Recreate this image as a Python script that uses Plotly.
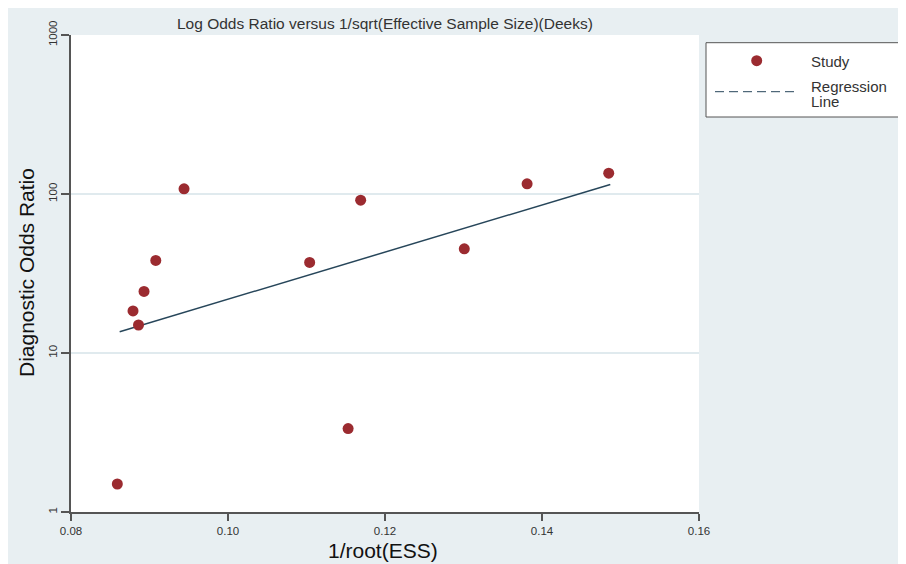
import plotly.graph_objects as go

# ---- data ----
study_x = [0.0859, 0.0879, 0.0886, 0.0893, 0.0908, 0.0944, 0.1104, 0.1153, 0.1169, 0.1301, 0.1381, 0.1485]
study_y = [1.50, 18.4, 15.0, 24.4, 38.2, 107.8, 37.1, 3.35, 91.4, 45.2, 115.9, 135.1]
reg_x = [0.0862, 0.1487]
reg_y = [13.6, 114.8]
x_ticks = [0.08, 0.10, 0.12, 0.14, 0.16]
x_tick_labels = ["0.08", "0.10", "0.12", "0.14", "0.16"]
y_ticks = [1, 10, 100, 1000]
y_tick_labels = ["1", "10", "100", "1000"]

OFF = 8                      # page body margin
W, H = 906 - OFF, 564 - OFF  # figure size
L, R, T, B = 71, 699, 35, 512  # plot area in page pixels

def fx(px):
    return (px - L) / (R - L)

def fy(py):
    return (B - py) / (B - T)

BG = "#e8eff2"
DOT = "#9b2b30"
LINE = "#27465a"
AX = "#555555"
TICKFONT = dict(family="Liberation Sans Narrow, Liberation Sans, Arial", size=11.5, color="#333333")
FONT = "Liberation Sans, Arial"

fig = go.Figure()
fig.add_trace(go.Scatter(x=reg_x, y=reg_y, mode="lines",
                         line=dict(color=LINE, width=1.5), name="Regression Line",
                         showlegend=False, hoverinfo="skip"))
fig.add_trace(go.Scatter(x=study_x, y=study_y, mode="markers",
                         marker=dict(color=DOT, size=11, line=dict(width=0)),
                         name="Study", showlegend=False))

shapes = [
    # legend box
    dict(type="rect", xref="paper", yref="paper", x0=fx(706), x1=fx(904), y0=fy(117), y1=fy(42.7),
         fillcolor="white", line=dict(color=AX, width=1), layer="above"),
    # legend dot
    dict(type="circle", xref="paper", yref="paper", xsizemode="pixel", ysizemode="pixel",
         xanchor=fx(756.7), yanchor=fy(60.7), x0=-5.5, x1=5.5, y0=-5.5, y1=5.5,
         fillcolor=DOT, line=dict(width=0), layer="above"),
    # legend dashed line
    dict(type="line", xref="paper", yref="paper", x0=fx(715), x1=fx(797), y0=fy(91.7), y1=fy(91.7),
         line=dict(color=LINE, width=1, dash="9px,5px"), layer="above"),
]

annotations = [
    dict(text="Log Odds Ratio versus 1/sqrt(Effective Sample Size)(Deeks)", xref="paper", yref="paper",
         x=fx(385), y=fy(23), xanchor="center", yanchor="middle", showarrow=False,
         font=dict(family="Liberation Sans Narrow, Liberation Sans, Arial", size=15.5, color="#333333")),
    dict(text="1/root(ESS)", xref="paper", yref="paper", x=fx(383), y=fy(550),
         xanchor="center", yanchor="middle", showarrow=False,
         font=dict(family=FONT, size=21, color="#111111")),
    dict(text="Diagnostic Odds Ratio", xref="paper", yref="paper", x=fx(26), y=fy(273),
         xanchor="center", yanchor="middle", textangle=-90, showarrow=False,
         font=dict(family=FONT, size=21, color="#111111")),
    dict(text="Study", xref="paper", yref="paper", x=fx(809), y=fy(61.5),
         xanchor="left", yanchor="middle", showarrow=False,
         font=dict(family=FONT, size=15, color="#333333")),
    dict(text="Regression", xref="paper", yref="paper", x=fx(809), y=fy(86.5),
         xanchor="left", yanchor="middle", showarrow=False,
         font=dict(family=FONT, size=15, color="#333333")),
    dict(text="Line", xref="paper", yref="paper", x=fx(809), y=fy(101.5),
         xanchor="left", yanchor="middle", showarrow=False,
         font=dict(family=FONT, size=15, color="#333333")),
]

fig.update_layout(
    width=W, height=H,
    margin=dict(l=L - OFF, r=906 - R, t=T - OFF, b=564 - B, pad=0),
    paper_bgcolor=BG, plot_bgcolor="white",
    showlegend=False,
    shapes=shapes, annotations=annotations,
    xaxis=dict(range=[0.08, 0.16], tickvals=x_ticks, ticktext=x_tick_labels,
               showgrid=False, zeroline=False, showline=True, linecolor=AX, linewidth=1.5,
               ticks="outside", ticklen=7, tickcolor=AX, tickwidth=1.5, tickfont=TICKFONT),
    yaxis=dict(type="log", range=[0, 3], tickvals=y_ticks, ticktext=y_tick_labels,
               showgrid=True, gridcolor="#e0eaee", gridwidth=2, zeroline=False,
               showline=True, linecolor=AX, linewidth=1.5,
               ticks="outside", ticklen=8, tickcolor=AX, tickwidth=1.5,
               tickangle=-90, tickfont=TICKFONT),
)

fig.write_html("out.html")
